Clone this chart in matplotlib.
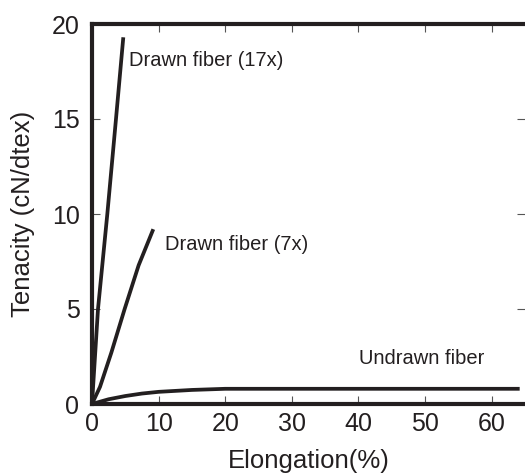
import numpy as np
import matplotlib as mpl
mpl.use('Agg')
import matplotlib.pyplot as plt

plt.rcParams['font.family'] = ['Liberation Sans', 'DejaVu Sans']

# --- curves (elongation %, tenacity cN/dtex)
elong_17x = [0, 0.9, 2.3, 3.6, 4.7]
ten_17x = [0, 5.0, 10.0, 15.0, 19.3]

elong_7x = [0, 1.2, 2.9, 4.9, 7.0, 9.2]
ten_7x = [0, 0.9, 2.7, 5.0, 7.3, 9.2]

elong_undrawn = [0, 2.5, 5, 7.5, 10, 15, 20, 30, 64.2]
ten_undrawn = [0, 0.25, 0.42, 0.55, 0.64, 0.74, 0.8, 0.8, 0.8]

labels = ['Drawn fiber (17x)', 'Drawn fiber (7x)', 'Undrawn fiber']

c = '#231f20'

fig = plt.figure(figsize=(5.25, 4.75), dpi=100)
ax = fig.add_axes([92/525, 1-404/475, 1-92/525, 380/475])

for x, y in [(elong_17x, ten_17x), (elong_7x, ten_7x), (elong_undrawn, ten_undrawn)]:
    ax.plot(x, y, c=c, lw=2.7, solid_capstyle='butt', solid_joinstyle='round', clip_on=False)

ax.text(5.5, 18.1, labels[0], fontsize=14.5, va='center', ha='left', color=c)
ax.text(11.0, 8.4, labels[1], fontsize=14.5, va='center', ha='left', color=c)
ax.text(40.1, 2.37, labels[2], fontsize=14.5, va='center', ha='left', color=c)

ax.set_xlim(0, 65)
ax.set_ylim(0, 20)
ax.set_xticks(np.arange(0, 61, 10))
ax.set_yticks(np.arange(0, 21, 5))

for s in ['left', 'bottom', 'top']:
    ax.spines[s].set_linewidth(3)
    ax.spines[s].set_color(c)
ax.spines['right'].set_visible(False)

ax.tick_params(direction='in', length=6, width=0.8, color='#555555',
               labelsize=18, labelcolor=c, top=True, right=True)
ax.tick_params(axis='x', pad=6)
ax.tick_params(axis='y', pad=9)

ax.set_xlabel('Elongation(%)', fontsize=18.5, color=c, labelpad=9)
ax.set_ylabel('Tenacity (cN/dtex)', fontsize=18.5, color=c, labelpad=12)

fig.savefig('out.png', dpi=100)
